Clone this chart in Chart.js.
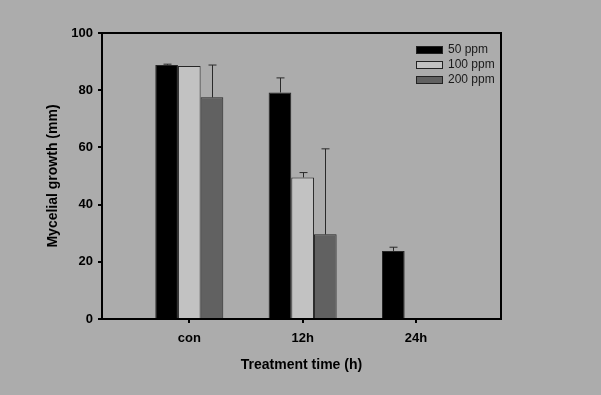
<!DOCTYPE html>
<html>
<head>
<meta charset="utf-8">
<script src="https://cdn.jsdelivr.net/npm/chart.js@4"></script>
<style>
  html, body { margin: 0; padding: 0; background: #acacac; }
  #wrap { width: 601px; height: 395px; }
</style>
</head>
<body>
<div id="wrap"><canvas id="chart" width="601" height="395"></canvas></div>
<script>
// datos
const categorias = ["con", "12h", "24h"];
const series = ["50 ppm", "100 ppm", "200 ppm"];
const valores50 = [88.8, 79.2, 23.8];
const valores100 = [88.5, 49.5, null];
const valores200 = [77.5, 29.6, null];
const error50 = [0.3, 5.1, 1.3];
const error100 = [0, 1.7, 0];
const error200 = [11.3, 29.9, 0];
const yTicks = [0, 20, 40, 60, 80, 100];

const COLORES = ["#000000", "#c2c2c2", "#616161"];
const valores = [valores50, valores100, valores200];
const errores = [error50, error100, error200];

const FONT = "'Liberation Sans', Arial, sans-serif";

// marco completo + barras de error + leyenda dentro del área
const extras = {
    id: "extras",
    afterDatasetsDraw(chart) {
        const ctx = chart.ctx;
        const y = chart.scales.y;
        ctx.save();
        ctx.strokeStyle = "#2a2a2a";
        ctx.lineWidth = 1;
        errores.forEach((errs, i) => {
            const meta = chart.getDatasetMeta(i);
            errs.forEach((e, j) => {
                const v = valores[i][j];
                if (v == null || !e) return;
                const bar = meta.data[j];
                const x = Math.round(bar.x) + 0.5;
                const top = y.getPixelForValue(v + e);
                ctx.beginPath();
                ctx.moveTo(x, bar.y);
                ctx.lineTo(x, top);
                ctx.moveTo(x - 4, top);
                ctx.lineTo(x + 4, top);
                ctx.stroke();
            });
        });
        ctx.restore();
    },
    afterDraw(chart) {
        const ctx = chart.ctx;
        const a = chart.chartArea;
        ctx.save();
        ctx.strokeStyle = "#000";
        ctx.lineWidth = 2;
        ctx.strokeRect(a.left, a.top, a.right - a.left, a.bottom - a.top);

        // leyenda
        ctx.font = "12px " + FONT;
        ctx.textBaseline = "middle";
        series.forEach((s, i) => {
            const ly = 50 + i * 15;
            ctx.fillStyle = COLORES[i];
            ctx.fillRect(416, ly - 4, 27, 8);
            ctx.lineWidth = 1;
            ctx.strokeStyle = "#222";
            ctx.strokeRect(416.5, ly - 3.5, 26, 7);
            ctx.fillStyle = "#1a1a1a";
            ctx.fillText(s, 448, ly);
        });
        ctx.restore();
    },
};

const ctx = document.getElementById("chart").getContext("2d");
new Chart(ctx, {
    type: "bar",
    data: {
        datasets: series.map((s, i) => ({
            label: s,
            data: valores[i].map((v, j) => ({ x: j, y: v })),
            backgroundColor: COLORES[i],
            borderColor: "#262626",
            borderWidth: 1,
            categoryPercentage: 0.6,
            barPercentage: 1,
        })),
    },
    options: {
        responsive: false,
        animation: false,
        layout: { padding: { left: 0, right: 100, top: 33, bottom: 0 } },
        plugins: {
            legend: { display: false },
            tooltip: { enabled: false },
        },
        scales: {
            x: {
                type: "linear",
                offset: false,
                min: -0.77,
                max: 2.75,
                afterBuildTicks: (scale) => {
                    scale.ticks = categorias.map((c, i) => ({ value: i }));
                },
                afterFit: (scale) => { scale.height = 76; },
                ticks: {
                    callback: (v) => categorias[v] ?? "",
                    color: "#000",
                    font: { family: FONT, size: 13, weight: "bold" },
                    padding: 8,
                    maxRotation: 0,
                },
                grid: { offset: false, drawOnChartArea: false, drawTicks: true, tickLength: 4, color: "#000", lineWidth: 2 },
                border: { display: true, color: "#000", width: 2 },
                title: {
                    display: true,
                    text: "Treatment time (h)",
                    color: "#000",
                    font: { family: FONT, size: 14, weight: "bold" },
                    padding: { top: 0, bottom: 21 },
                },
            },
            y: {
                min: 0,
                max: 100,
                afterBuildTicks: (scale) => {
                    scale.ticks = yTicks.map((v) => ({ value: v }));
                },
                afterFit: (scale) => { scale.width = 102; },
                ticks: {
                    color: "#000",
                    font: { family: FONT, size: 13, weight: "bold" },
                    padding: 5,
                },
                grid: { drawOnChartArea: false, drawTicks: true, tickLength: 4, color: "#000", lineWidth: 2 },
                border: { display: true, color: "#000", width: 2 },
                title: {
                    display: true,
                    text: "Mycelial growth (mm)",
                    color: "#000",
                    font: { family: FONT, size: 14, weight: "bold" },
                    padding: { top: 45, bottom: 0 },
                },
            },
        },
    },
    plugins: [extras],
});
</script>
</body>
</html>
